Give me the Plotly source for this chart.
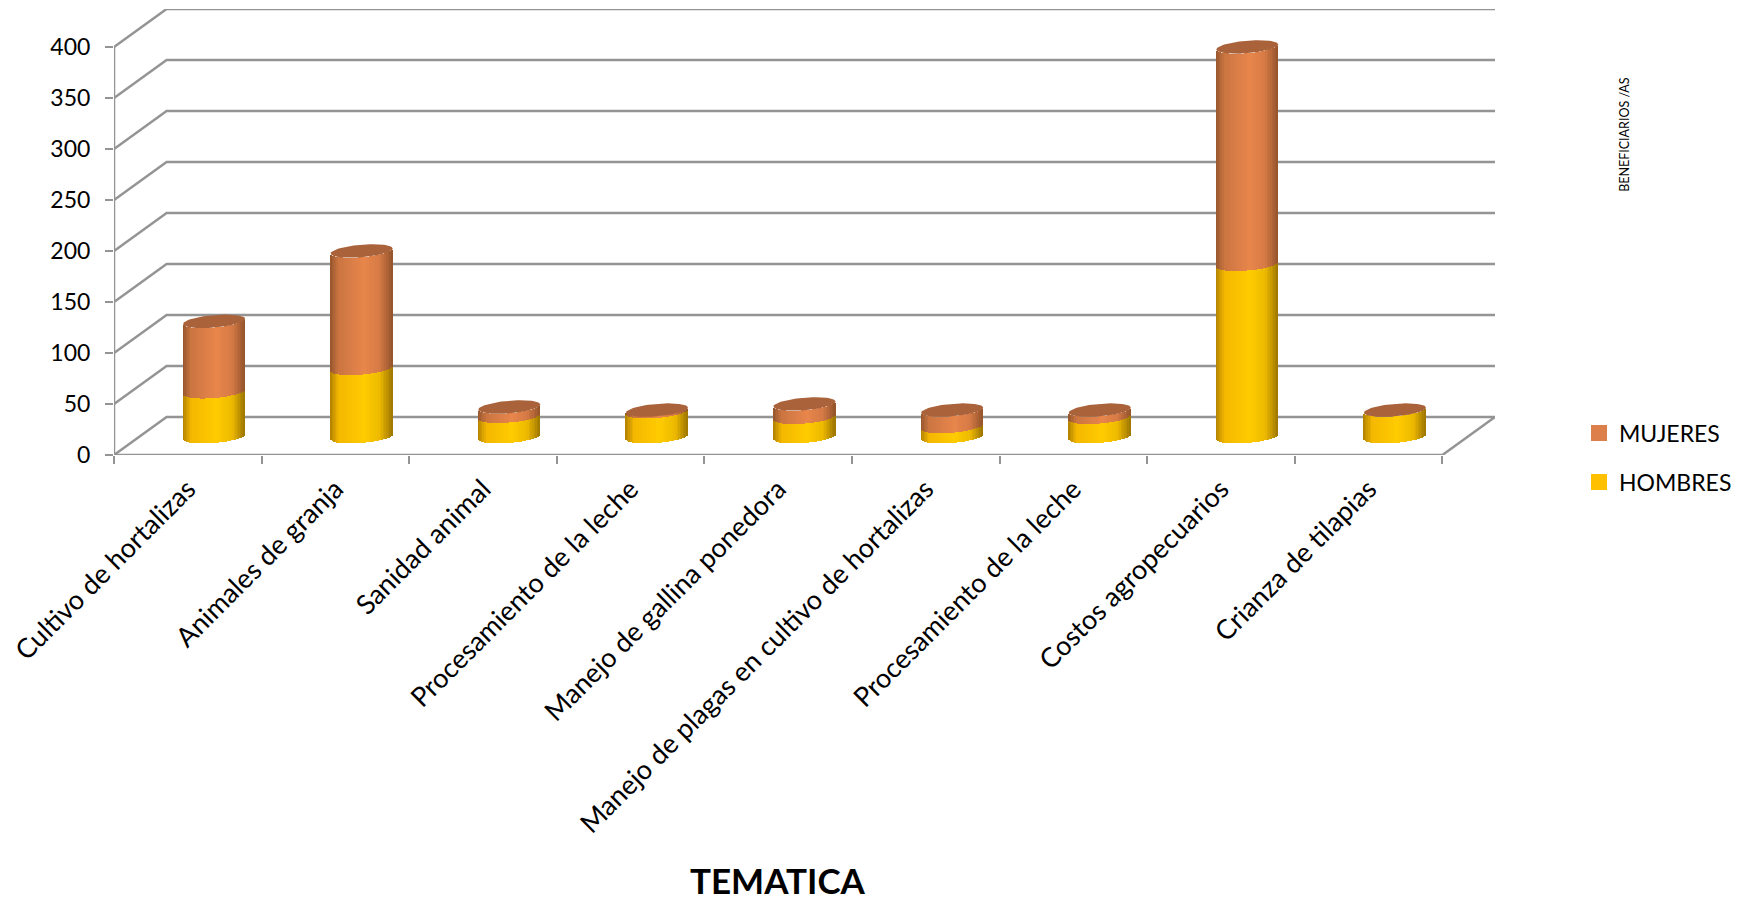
import numpy as np
import plotly.graph_objects as go

categories = ["Cultivo de hortalizas", "Animales de granja", "Sanidad animal",
              "Procesamiento de la leche", "Manejo de gallina ponedora",
              "Manejo de plagas en cultivo de hortalizas", "Procesamiento de la leche",
              "Costos agropecuarios", "Crianza de tilapias"]
hombres = [44, 67, 20, 25, 19, 10, 19, 169, 26]
mujeres = [69, 115, 9, 1, 13, 16, 7, 213, 0]
y_ticks = [0, 50, 100, 150, 200, 250, 300, 350, 400]

W, H = 1750, 903
L, R, T, B = 114, 255, 9, 447.5
PX_X = 147.6
PX_Y = (H - T - B) / 437.2
DEPTH_X = (W - L - R) / PX_X - 9
DEPTH_Y = 37.2
GRID = "#949494"
FONT = "Lato"

A = 31 / PX_X        # half cylinder width
BE = 6.3 / PX_Y      # ellipse half height
S = 2.5 / PX_Y       # ellipse tilt
BASE = 18.0          # base centre (mid depth)
N = 40

u = (np.arange(N) + 0.5) / N * 2 - 1
low = S * u - BE * np.sqrt(1 - u ** 2)


def shade(edge_l, mid_l, mid, mid_r, edge_r):
    stops = [-1, -0.72, 0.1, 0.6, 1]
    chans = np.array([edge_l, mid_l, mid, mid_r, edge_r], float)
    out = []
    for v in u:
        c = [np.interp(v, stops, chans[:, k]) for k in range(3)]
        out.append("rgb(%d,%d,%d)" % tuple(c))
    return out


gold = shade((176, 130, 0), (245, 184, 0), (255, 204, 0), (238, 186, 0), (158, 118, 0))
copper = shade((150, 86, 45), (204, 118, 66), (232, 134, 76), (214, 122, 70), (148, 84, 44))
CAP = "#a9623a"

fig = go.Figure()


def line(xs, ys, zorder=0):
    fig.add_trace(go.Scatter(x=xs, y=ys, mode="lines", line=dict(color=GRID, width=2.5),
                             hoverinfo="skip", showlegend=False, zorder=zorder, cliponaxis=False))


for v in y_ticks:
    line([0, DEPTH_X, 9 + DEPTH_X], [v, v + DEPTH_Y, v + DEPTH_Y])
line([0, 0], [0, y_ticks[-1]])
line([0, 9, 9 + DEPTH_X], [0, 0, DEPTH_Y])

for i, (h, m) in enumerate(zip(hombres, mujeres)):
    cx = i + 0.5 + DEPTH_X / 2
    xs = cx + u * A
    fig.add_trace(go.Bar(x=xs, base=BASE + low, y=np.full(N, float(h)), width=2 * A / N * 1.05,
                         marker=dict(color=gold, line=dict(width=0)), hoverinfo="skip",
                         showlegend=False, zorder=1))
    if m > 0:
        fig.add_trace(go.Bar(x=xs, base=BASE + h + low, y=np.full(N, float(m)),
                             width=2 * A / N * 1.05,
                             marker=dict(color=copper, line=dict(width=0)), hoverinfo="skip",
                             showlegend=False, zorder=1))
    t = np.linspace(0, 2 * np.pi, 73)
    fig.add_trace(go.Scatter(x=cx + A * np.cos(t),
                             y=BASE + h + m + S * np.cos(t) + BE * np.sin(t),
                             mode="lines", fill="toself", fillcolor=CAP, line=dict(width=0, color=CAP),
                             hoverinfo="skip", showlegend=False, zorder=2))

for name, col, grp in [("MUJERES", "#DC7F4A", "a"), ("HOMBRES", "#FFC000", "b")]:
    fig.add_trace(go.Scatter(x=[None], y=[None], mode="markers", name=name, legendgroup=grp,
                             marker=dict(symbol="square", size=16, color=col)))

fig.update_layout(
    width=W, height=H,
    margin=dict(l=L, r=R, t=T, b=B, pad=0),
    paper_bgcolor="white", plot_bgcolor="white",
    barmode="overlay", bargap=0,
    font=dict(family=FONT, size=22, color="black"),
    showlegend=True,
    legend=dict(x=(1579 - L) / (W - L - R), y=(H - B - 412) / (H - T - B), yanchor="top", xanchor="left",
                traceorder="grouped", tracegroupgap=16, font=dict(size=23, family=FONT),
                bgcolor="rgba(0,0,0,0)", itemclick=False, itemdoubleclick=False),
    xaxis=dict(range=[0, 9 + DEPTH_X], showgrid=False, zeroline=False, showline=False,
               tickmode="array", tickvals=[i + 0.5 for i in range(9)], ticktext=categories,
               tickangle=-45, ticks="", tickfont=dict(size=27, family=FONT), ticklabelstandoff=12,
               minor=dict(ticks="outside", ticklen=8, tickwidth=2, tickcolor=GRID, tick0=0, dtick=1,
                          showgrid=False)),
    yaxis=dict(range=[0, y_ticks[-1] + DEPTH_Y], showgrid=False, zeroline=False, showline=False,
               tickmode="array", tickvals=y_ticks, ticks="outside", ticklen=8, tickwidth=2,
               tickcolor=GRID, tickfont=dict(size=23, family=FONT), ticklabelstandoff=10),
    annotations=[
        dict(text="<b>TEMATICA</b>", xref="paper", yref="paper",
             x=(778 - L) / (W - L - R), y=(H - B - 881) / (H - T - B),
             xanchor="center", yanchor="middle", showarrow=False,
             font=dict(size=35, family=FONT, color="black")),
        dict(text="BENEFICIARIOS /AS", xref="paper", yref="paper",
             x=(1625 - L) / (W - L - R), y=(H - B - 135) / (H - T - B),
             textangle=-90, xanchor="center", yanchor="middle", showarrow=False,
             font=dict(size=12.5, family=FONT, color="black")),
    ],
)

fig.write_html("out.html", post_script="document.body.style.margin='0';",
               config={"displayModeBar": False})
